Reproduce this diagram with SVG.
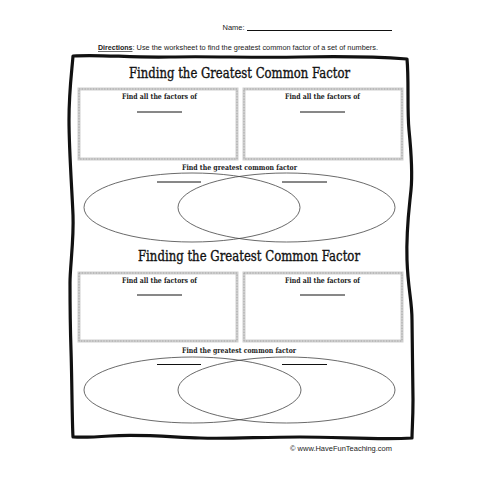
<svg xmlns="http://www.w3.org/2000/svg" width="480" height="480" viewBox="0 0 480 480">
<style>
.sans{font-family:"Liberation Sans",Arial,sans-serif;fill:#222}
.title{font-family:"DejaVu Serif","Liberation Serif",serif;font-size:14px;fill:#111;stroke:#111;stroke-width:0.35;text-anchor:middle}
.lbl{font-family:"DejaVu Serif","Liberation Serif",serif;font-size:7.5px;font-weight:bold;fill:#222;text-anchor:middle}
.box{fill:none;stroke:#cfcfcf;stroke-width:3}
.boxin{fill:none;stroke:#a0a0a0;stroke-width:0.9;stroke-dasharray:1.2 1.6}
.ell{fill:none;stroke:#444;stroke-width:0.8}
.uline{stroke:#111;stroke-width:1}
</style>
<rect width="480" height="480" fill="#fff"/>
<g id="header">
<text class="sans" x="222.5" y="30" font-size="7.5" textLength="22" lengthAdjust="spacingAndGlyphs">Name:</text>
<line class="uline" x1="247" y1="30.5" x2="392" y2="30.5" stroke-width="0.9"/>
<text class="sans" x="98" y="50" font-size="6.8" font-weight="bold" text-decoration="underline" textLength="34.5" lengthAdjust="spacingAndGlyphs">Directions</text>
<text class="sans" x="132.5" y="50" font-size="6.8" textLength="245.5" lengthAdjust="spacingAndGlyphs">:  Use the worksheet to find the greatest common factor of a set of numbers.</text>
</g>
<g id="frame">
<path d="M73,56 C100,54 130,58 170,57 S250,58 300,57 S380,57 407,59 C409,80 407,110 409,130 S413,170 411,190 S406,230 407,260 S412,300 412,320 S413,380 413,400 S412,430 412,438 C380,440 340,437 300,437 S230,439 200,438 S140,434 110,436 S80,437 73,437 C72,420 72,380 71,350 S70,300 70,283 S74,240 73,215 S69,150 69,120 S72,70 73,56 Z" fill="none" stroke="#111" stroke-width="3.2" stroke-linejoin="round"/>
</g>
<g id="section1">
<text class="title" x="239.5" y="78.3" textLength="221" lengthAdjust="spacingAndGlyphs">Finding the Greatest Common Factor</text>
<g id="box1-left">
<rect class="box" x="79" y="89" width="158" height="70"/>
<rect class="boxin" x="79" y="89" width="158" height="70"/>
<text class="lbl" x="159.5" y="99" textLength="75" lengthAdjust="spacingAndGlyphs">Find all the factors of</text>
<line class="uline" x1="137" y1="112" x2="182" y2="112"/>
</g>
<g id="box1-right">
<rect class="box" x="244" y="89" width="158" height="70"/>
<rect class="boxin" x="244" y="89" width="158" height="70"/>
<text class="lbl" x="322.5" y="99" textLength="75" lengthAdjust="spacingAndGlyphs">Find all the factors of</text>
<line class="uline" x1="300" y1="112" x2="345" y2="112"/>
</g>
<g id="venn1">
<text class="lbl" x="239.5" y="170" textLength="115" lengthAdjust="spacingAndGlyphs">Find the greatest common factor</text>
<ellipse class="ell" cx="192" cy="207.5" rx="108" ry="34.5"/>
<ellipse class="ell" cx="286.5" cy="207.5" rx="108.5" ry="34.5"/>
<line class="uline" x1="157" y1="182" x2="201" y2="182"/>
<line class="uline" x1="282" y1="182" x2="327" y2="182"/>
</g>
</g>
<g id="section2">
<text class="title" x="249" y="260.5" textLength="222" lengthAdjust="spacingAndGlyphs">Finding the Greatest Common Factor</text>
<g id="box2-left">
<rect class="box" x="79" y="273" width="158" height="68"/>
<rect class="boxin" x="79" y="273" width="158" height="68"/>
<text class="lbl" x="159.5" y="282.5" textLength="75" lengthAdjust="spacingAndGlyphs">Find all the factors of</text>
<line class="uline" x1="137" y1="295" x2="182" y2="295"/>
</g>
<g id="box2-right">
<rect class="box" x="244" y="273" width="158" height="68"/>
<rect class="boxin" x="244" y="273" width="158" height="68"/>
<text class="lbl" x="322.5" y="282.5" textLength="75" lengthAdjust="spacingAndGlyphs">Find all the factors of</text>
<line class="uline" x1="300" y1="295" x2="345" y2="295"/>
</g>
<g id="venn2">
<text class="lbl" x="239" y="353" textLength="114" lengthAdjust="spacingAndGlyphs">Find the greatest common factor</text>
<ellipse class="ell" cx="192.5" cy="390" rx="108.5" ry="33"/>
<ellipse class="ell" cx="286.5" cy="390" rx="108.5" ry="33"/>
<line class="uline" x1="157" y1="364.5" x2="201" y2="364.5"/>
<line class="uline" x1="282" y1="364.5" x2="327" y2="364.5"/>
</g>
</g>
<g id="footer">
<text class="sans" x="290" y="451" font-size="7.5" textLength="102" lengthAdjust="spacingAndGlyphs">© www.HaveFunTeaching.com</text>
</g>
</svg>
